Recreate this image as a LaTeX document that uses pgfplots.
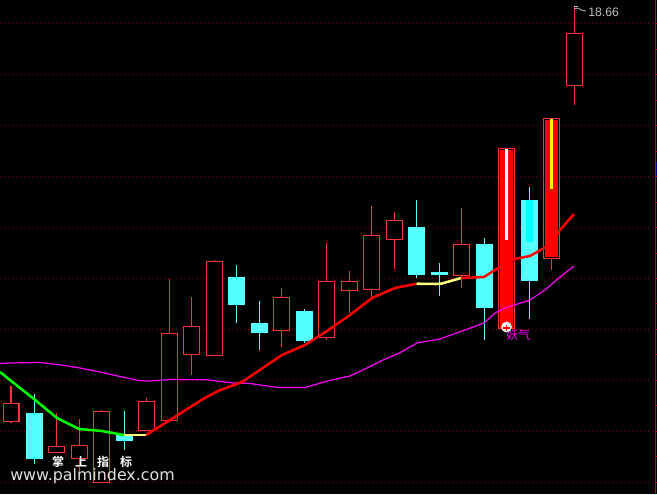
\documentclass[border=0pt]{standalone}
\usepackage{fontspec}
\usepackage{pgfplots}
\usepackage{pgfplotstable}
\pgfplotsset{compat=1.18}
\setmainfont{Liberation Sans}
\newfontfamily\cjk{Noto Sans CJK SC}[BoldFont={* Bold}]
\newfontfamily\wm{DejaVu Sans}

\definecolor{cline}{HTML}{FF3232}
\definecolor{cbody}{HTML}{54FFFF}
\definecolor{griddot}{HTML}{8A0000}
\definecolor{paleyel}{HTML}{FFFF80}
\definecolor{puremag}{HTML}{FF00FF}
\definecolor{puregreen}{HTML}{00FF00}
\definecolor{purecyan}{HTML}{00FFFF}

% y values are read in image pixels from the top
\pgfplotstableread{
x     hi    top   bot   lo
11    386   403   422   423
56.5  413   446   453   453
79.5  419   445   459   471
101.5 410   411   483   483
146.5 398   401   431   431
169.5 279   333   421   421
191.5 297   326   355   375
214.5 260   261   356   356
281.5 288   297   331   347
326.5 243   281   338   340
349.5 271   281   291   313
371.5 206   235   290   297
394.5 212   220   240   269
461.5 208   244   276   288
506.5 148   148   329   329
551.5 118   118   259   270
574.5 6     33    86    105
}\hollow

\pgfplotstableread{
x     hi    top   bot   lo
34.5  394   413   458.5 464
124.5 411   435   440.5 450
236.5 265   277   305   323
259.5 301   323   333   350
304.5 309   311   341   343
416.5 200   227   275   278
439.5 263   272   275   296
484.5 238   244   308   340
529.5 187   200   281   319
}\cyancandle

\pgfplotstableread{
x     top   bot
506.5 150   327.5
551.5 120   257
}\filled

\pgfplotstableread{
x y
0 23.5
0 74.5
0 125.5
0 176.5
0 227.5
0 278.5
0 329.5
0 380.5
0 431.5
0 482.5
}\gridrows

\pgfplotsset{
  wickstyle/.style={draw=none, mark=none, forget plot,
    error bars/.cd, y dir=plus, y explicit, error mark=none,
    error bar style={line width=#1}},
}

\begin{document}
\begin{tikzpicture}
\begin{axis}[
    scale only axis,
    width=492.75pt, height=370.5pt,
    xmin=0, xmax=657, ymin=0, ymax=494,
    y dir=reverse,
    axis line style={draw=none},
    axis background/.style={fill=black},
    xtick=\empty, ytick=\empty,
]

% dotted price levels
\addplot[draw=none, mark=none, forget plot,
    error bars/.cd, x dir=plus, x fixed=655, error mark=none,
    error bar style={griddot, line width=0.6pt, dash pattern=on 0.6pt off 2.4pt}]
    table[x=x, y=y] {\gridrows};

% right scale
\addplot[griddot!40!red, line width=0.9pt, forget plot] coordinates {(655.6,0) (655.6,494)};
\addplot[blue!60!black, line width=0.9pt, forget plot] coordinates {(656.4,162) (656.4,178)};
\pgfplotsinvokeforeach{24,49.5,75,100.5,125.5,151,176.5,202,227.5,253,278,303.5,329,354.5,380.5,405.5,431,456.5,482}{
  \draw[griddot!60!red, line width=0.75pt] (axis cs:655,#1) -- (axis cs:657,#1);
}

% wicks
\addplot[wickstyle=1.05pt, error bar style={cline}] table[x=x, y=hi, y error plus expr=\thisrow{lo}-\thisrow{hi}] {\hollow};
\addplot[wickstyle=1.05pt, error bar style={cbody}] table[x=x, y=hi, y error plus expr=\thisrow{lo}-\thisrow{hi}] {\cyancandle};
% hollow bodies: red bar with a black one inside
\addplot[wickstyle=12.75pt, error bar style={cline}] table[x=x, y=top, y error plus expr=\thisrow{bot}-\thisrow{top}] {\hollow};
\addplot[wickstyle=10.65pt, error bar style={black}] table[x=x, y expr=\thisrow{top}+1.4, y error plus expr=\thisrow{bot}-\thisrow{top}-2.8] {\hollow};
% cyan bodies
\addplot[wickstyle=12.75pt, error bar style={cbody}] table[x=x, y=top, y error plus expr=\thisrow{bot}-\thisrow{top}] {\cyancandle};
% signal candles
\addplot[wickstyle=9.9pt, error bar style={red}] table[x=x, y=top, y error plus expr=\thisrow{bot}-\thisrow{top}] {\filled};
\addplot[white, line width=2.6pt] coordinates {(506.5,149) (506.5,240)};
\addplot[purecyan, line width=5.2pt] coordinates {(529.5,200) (529.5,242)};
\addplot[yellow, line width=2.4pt] coordinates {(551.5,119) (551.5,189)};

% slow average
\addplot[puremag, line width=0.9pt] coordinates {
(0,363.5)(8,363)(40,362.5)(60,364.7)(80,368)(100,372)(120,376.5)(140,380.7)(150,381)
(170,379.5)(207,379.7)(233,383)(250,383.5)(278,387.5)(305,387.5)(330,380.3)(350,376)
(367,368)(383,360)(400,352.7)(417,343)(440,339)(484,323)(495,313)(505,308)(530,300)
(545,290)(560,277)(574,266)};

% fast average, coloured by trend
\addplot[puregreen, line width=1.9pt] coordinates {
(0,372)(10,380)(34,399)(57,418)(79,429)(102,431)(124,435)};
\addplot[paleyel, line width=1.9pt] coordinates {(124,435)(146,435)};
\addplot[red, line width=1.9pt] coordinates {
(146,435)(170,420)(203,399)(218,391)(242,382)(282,355)(305,345)(327,331)(350,315)
(372,298)(395,288)(400,287)(416.5,283.7)};
\addplot[paleyel, line width=1.9pt] coordinates {(416.5,283.7)(436,284)(442,283.5)(461,278)};
\addplot[red, line width=1.9pt] coordinates {
(461,278)(484,277)(506,263)(514,259)(530,256)(551,244)(560,230)(574,214)};

% signal marker
\addplot[only marks, mark=*, mark size=3.9pt, mark options={fill=white, draw=white!75!black}] coordinates {(506.5,327)};
\addplot[only marks, mark=+, mark size=2.4pt, mark options={draw=red, line width=1.2pt}] coordinates {(506.5,328)};
\node[anchor=west, inner sep=0pt, text=puremag, font=\cjk\fontsize{9}{10}\selectfont] at (axis cs:506,334.5) {妖气};

% high price flag
\addplot[white!75!black, line width=0.6pt] coordinates {(574,6.5)(578,6.5)};
\addplot[white!75!black, line width=0.6pt] coordinates {(574,9)(578,8)(581,10)(586,11)};
\node[anchor=west, inner sep=0pt, text=white!75!black, font=\fontsize{9.2}{10}\selectfont] at (axis cs:588,12.5) {18.66};

% watermark
\node[anchor=center, inner sep=0pt, text=white, font=\cjk\bfseries\fontsize{9}{10}\selectfont] at (axis cs:58,462) {掌};
\node[anchor=center, inner sep=0pt, text=white, font=\cjk\bfseries\fontsize{9}{10}\selectfont] at (axis cs:81,462) {上};
\node[anchor=center, inner sep=0pt, text=white, font=\cjk\bfseries\fontsize{9}{10}\selectfont] at (axis cs:103,462) {指};
\node[anchor=center, inner sep=0pt, text=white, font=\cjk\bfseries\fontsize{9}{10}\selectfont] at (axis cs:126,462) {标};
\node[anchor=west, inner sep=0pt, text=white!88!black, font=\wm\fontsize{11.9}{14}\selectfont] at (axis cs:10,476) {www.palmindex.com};
\end{axis}
\end{tikzpicture}
\end{document}
